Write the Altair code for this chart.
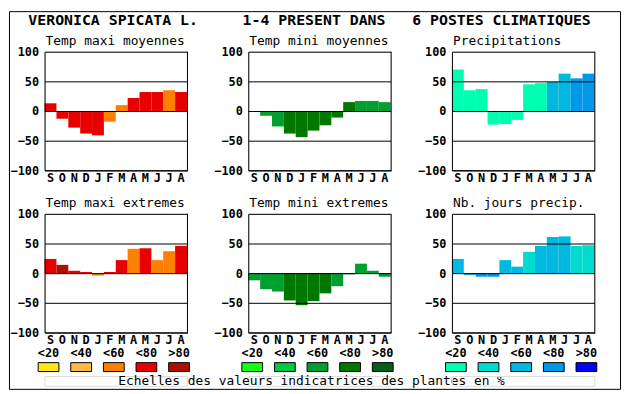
import json
import altair as alt
import pandas as pd

MONO = "DejaVu Sans Mono"

MONTHS = ["S", "O", "N", "D", "J", "F", "M", "A", "M", "J", "J", "A"]

NB = "\u00a0"
TITLE = "VERONICA SPICATA L." + NB * 5 + "1-4 PRESENT DANS" + NB * 3 + "6 POSTES CLIMATIQUES"
FOOTER = "Echelles des valeurs indicatrices des plantes en %"
LEG_LABELS = ["<20", "<40", "<60", "<80", ">80"]

# panel titles
T_TMAX_MOY = "Temp maxi moyennes"
T_TMIN_MOY = "Temp mini moyennes"
T_PREC = "Precipitations"
T_TMAX_EXT = "Temp maxi extremes"
T_TMIN_EXT = "Temp mini extremes"
T_NBJ = "Nb. jours precip."

# values (S..A) and class index (0:<20 1:<40 2:<60 3:<80 4:>80)
tmax_moy = [13, -13, -28, -38, -41, -18, 10, 22, 32, 32, 35, 32]
tmax_moy_cls = [3, 3, 3, 3, 3, 2, 2, 3, 3, 3, 2, 3]

tmin_moy = [0, -8, -26, -38, -44, -33, -24, -11, 15, 17, 17, 15]
tmin_moy_cls = [2, 2, 2, 3, 3, 3, 3, 3, 3, 2, 2, 2]

prec = [70, 35, 37, -23, -22, -15, 45, 47, 49, 63, 55, 63]
prec_cls = [0, 0, 0, 0, 0, 0, 0, 0, 2, 2, 3, 3]

tmax_ext = [24, 14, 4, 2, -4, 2, 22, 41, 42, 22, 37, 46]
tmax_ext_cls = [3, 4, 3, 3, 2, 3, 3, 2, 3, 2, 2, 3]

tmin_ext = [-12, -27, -31, -46, -54, -47, -34, -22, -2, 16, 4, -6]
tmin_ext_cls = [2, 2, 2, 3, 3, 3, 3, 2, 2, 2, 2, 2]

nbj = [24, -3, -6, -6, 22, 11, 36, 46, 61, 62, 46, 47]
nbj_cls = [2, 2, 3, 3, 2, 2, 1, 2, 2, 2, 1, 1]

# colour scales
PAL_TMAX = ["#fce61c", "#ffb94a", "#ff8000", "#e80000", "#ac1000"]
PAL_TMIN = ["#14ff14", "#00c840", "#00a030", "#007800", "#00601c"]
PAL_PREC = ["#00ffb0", "#00dcd0", "#00b8e0", "#0098e8", "#0000ff"]

W, H = 144, 120
LABEL_EXPR = json.dumps(MONTHS) + "[datum.value]"


def panel(values, classes, title, pal, extra=()):
    df = pd.DataFrame({"i": list(range(12)), "v": values, "c": classes})
    bars = alt.Chart(df).mark_bar().encode(
        x=alt.X("i:O",
                scale=alt.Scale(domain=list(range(12)), paddingInner=0, paddingOuter=0),
                axis=alt.Axis(title=None, labelExpr=LABEL_EXPR, labelAngle=0, ticks=False,
                              tickSize=0, labelPadding=2, domain=True, domainColor="black",
                              domainWidth=1, grid=False, zindex=1, labelFont=MONO,
                              labelFontWeight="bold", labelFontSize=12, labelColor="black")),
        y=alt.Y("v:Q", scale=alt.Scale(domain=[-100, 100], nice=False),
                axis=alt.Axis(title=None, values=[-100, -50, 0, 50, 100], ticks=False,
                              tickSize=0, labelPadding=6, labelFlush=False, labelOverlap=False,
                              domain=True, domainColor="black", domainWidth=1, grid=True,
                              gridColor="black", gridOpacity=1, gridWidth=1, zindex=1,
                              labelFont=MONO, labelFontWeight="bold", labelFontSize=12,
                              labelColor="black")),
        color=alt.Color("c:O", scale=alt.Scale(domain=[0, 1, 2, 3, 4], range=pal), legend=None),
    )
    right = alt.Chart(pd.DataFrame({"k": [0]})).mark_rule(color="black", strokeWidth=1).encode(
        x=alt.value(144.5), y=alt.value(0), y2=alt.value(121))
    ttl = alt.Chart(pd.DataFrame({"t": [title]})).mark_text(
        align="left", baseline="alphabetic", font=MONO, fontSize=13, color="black").encode(
        x=alt.value(1), y=alt.value(-7), text="t:N")
    return alt.layer(bars, right, ttl, *extra).properties(width=W, height=H)


BOX = "M-1.05,-0.45L1.05,-0.45L1.05,0.45L-1.05,0.45Z"


def legend_chart(pal, extra=()):
    df = pd.DataFrame({"lab": LEG_LABELS, "c": [0, 1, 2, 3, 4]})
    x = alt.X("lab:N", scale=alt.Scale(type="point", domain=LEG_LABELS, range=[4, 136], padding=0),
              axis=None)
    boxes = alt.Chart(df).mark_point(shape=BOX, size=400, filled=True, stroke="black",
                                     strokeWidth=1, opacity=1).encode(
        x=x, y=alt.value(-9),
        fill=alt.Fill("c:O", scale=alt.Scale(domain=[0, 1, 2, 3, 4], range=pal), legend=None))
    labs = alt.Chart(df).mark_text(font=MONO, fontSize=12, fontWeight="bold", color="black",
                                   align="center", baseline="middle").encode(
        x=x, y=alt.value(-23), text="lab:N")
    return alt.layer(boxes, labs, *extra).properties(width=W, height=10)


main_title = alt.Chart(pd.DataFrame({"t": [TITLE]})).mark_text(
    font=MONO, fontSize=15, fontWeight="bold", color="black", align="center",
    baseline="middle").encode(x=alt.value(268), y=alt.value(-32), text="t:N")
frame = alt.Chart(pd.DataFrame({"k": [0]})).mark_rect(
    fillOpacity=0, stroke="black", strokeWidth=1).encode(
    x=alt.value(-35.5), x2=alt.value(582.5), y=alt.value(-40.5), y2=alt.value(341.5))
footer = alt.Chart(pd.DataFrame({"t": [FOOTER]})).mark_text(
    font=MONO, fontSize=13, color="black", align="center", baseline="middle").encode(
    x=alt.value(64), y=alt.value(5), text="t:N")

cells = [
    panel(tmax_moy, tmax_moy_cls, T_TMAX_MOY, PAL_TMAX, extra=(frame, main_title)),
    panel(tmin_moy, tmin_moy_cls, T_TMIN_MOY, PAL_TMIN),
    panel(prec, prec_cls, T_PREC, PAL_PREC),
    panel(tmax_ext, tmax_ext_cls, T_TMAX_EXT, PAL_TMAX),
    panel(tmin_ext, tmin_ext_cls, T_TMIN_EXT, PAL_TMIN),
    panel(nbj, nbj_cls, T_NBJ, PAL_PREC),
    legend_chart(PAL_TMAX),
    legend_chart(PAL_TMIN, extra=(footer,)),
    legend_chart(PAL_PREC),
]

chart = alt.concat(
    *cells, columns=3, spacing=alt.RowColnumber(row=44, column=62), bounds="flush"
).resolve_scale(color="independent", fill="independent").properties(
    padding=0).configure_view(stroke=None).configure(background="white")

chart.save("out.html", embed_options={"renderer": "svg", "actions": False})
